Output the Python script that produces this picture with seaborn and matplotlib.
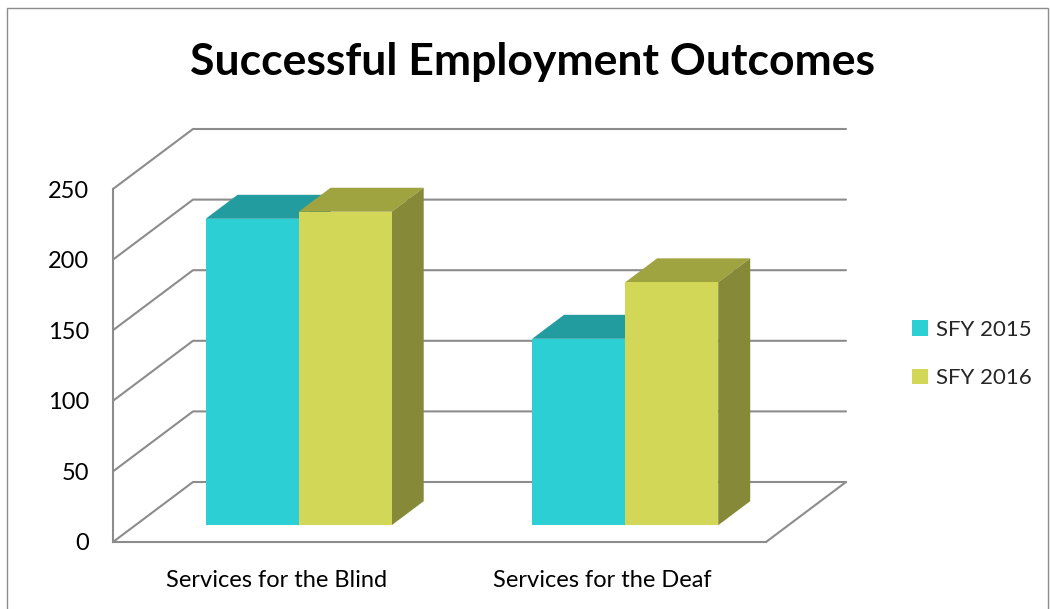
import numpy as np
import pandas as pd
import matplotlib
matplotlib.use("Agg")
import matplotlib.pyplot as plt
import matplotlib.colors as mcolors
import seaborn as sns
from matplotlib.transforms import Affine2D, IdentityTransform
from matplotlib.patches import Polygon, Patch, Rectangle
from matplotlib.lines import Line2D

# ---- data ----
categories = ["Services for the Blind", "Services for the Deaf"]
series = ["SFY 2015", "SFY 2016"]
sfy2015 = [217, 132]
sfy2016 = [222, 172]
yticks = [0, 50, 100, 150, 200, 250]
title = "Successful Employment Outcomes"

front_colors = {"SFY 2015": "#2CCFD3", "SFY 2016": "#D3D758"}
top_colors = {"SFY 2015": "#229C9F", "SFY 2016": "#A0A440"}
side_colors = {"SFY 2015": "#1C8285", "SFY 2016": "#868937"}
grid_color = "#8C8C8C"

df = pd.DataFrame({
    "category": categories * 2,
    "series": [series[0]] * len(categories) + [series[1]] * len(categories),
    "value": sfy2015 + sfy2016,
})

sns.set_style("white")
plt.rcParams["font.family"] = ["Lato", "DejaVu Sans"]

W, H = 1050, 609
fig = plt.figure(figsize=(W / 100, H / 100), dpi=100)
ax = fig.add_axes([113 / W, 1 - 542 / H, (766 - 113) / W, (542 - 189) / H])

sns.barplot(data=df, x="category", y="value", hue="series", palette=front_colors,
            width=0.57, ax=ax, legend=False, saturation=1, linewidth=0,
            edgecolor="none", order=categories, hue_order=series)
ax.set_xlim(-0.5, len(categories) - 0.5)
ax.set_ylim(yticks[0], yticks[-1])
ax.set_xlabel("")
ax.set_ylabel("")

# pseudo-3D geometry (display pixel offsets)
D_BACK = np.array([80.0, 60.0])
F_OFF = D_BACK * 0.28
D_BAR = D_BACK * 0.40

xmin, xmax = ax.get_xlim()
# back wall + left wall grid lines
for v in yticks:
    p0 = ax.transData.transform((xmin, v))
    p1 = ax.transData.transform((xmax, v))
    pts = np.array([p0, p0 + D_BACK, p1 + D_BACK])
    ax.add_artist(Line2D(pts[:, 0], pts[:, 1], transform=IdentityTransform(),
                         color=grid_color, lw=1.5, zorder=0.5, clip_on=False))
# floor right edge
p1 = ax.transData.transform((xmax, 0))
pts = np.array([p1, p1 + D_BACK])
ax.add_artist(Line2D(pts[:, 0], pts[:, 1], transform=IdentityTransform(),
                     color=grid_color, lw=1.5, zorder=0.5, clip_on=False))

# bars: seaborn rectangles become the front faces, add top and side faces
hex_to_series = {mcolors.to_hex(c).lower(): s for s, c in front_colors.items()}
bars = sorted([p for p in ax.patches if p.get_height() > 0], key=lambda p: p.get_x())
for k, p in enumerate(bars):
    s = hex_to_series.get(mcolors.to_hex(p.get_facecolor()).lower(), series[0])
    z = 2 + k * 0.1
    x0, w, h = p.get_x(), p.get_width(), p.get_height()
    c = ax.transData.transform([(x0, 0), (x0 + w, 0), (x0 + w, h), (x0, h)])
    top = [c[3] + F_OFF, c[2] + F_OFF, c[2] + F_OFF + D_BAR, c[3] + F_OFF + D_BAR]
    side = [c[1] + F_OFF, c[1] + F_OFF + D_BAR, c[2] + F_OFF + D_BAR, c[2] + F_OFF]
    ax.add_artist(Polygon(top, closed=True, transform=IdentityTransform(),
                          facecolor=top_colors[s], edgecolor="none", zorder=z,
                          clip_on=False))
    ax.add_artist(Polygon(side, closed=True, transform=IdentityTransform(),
                          facecolor=side_colors[s], edgecolor="none", zorder=z,
                          clip_on=False))
    p.set_transform(ax.transData + Affine2D().translate(*F_OFF))
    p.set_clip_on(False)
    p.set_zorder(z + 0.05)

# axes styling
for sp in ["top", "right"]:
    ax.spines[sp].set_visible(False)
for sp in ["left", "bottom"]:
    ax.spines[sp].set_color(grid_color)
    ax.spines[sp].set_linewidth(1.5)
    ax.spines[sp].set_zorder(0.6)

ax.set_yticks(yticks)
ax.set_yticklabels([str(v) for v in yticks], fontsize=17, color="#000000")
ax.tick_params(axis="y", direction="out", length=5, width=1.5, color=grid_color, pad=12)

ax.set_xticks(np.arange(len(categories) + 1) - 0.5)
ax.set_xticklabels([""] * (len(categories) + 1))
ax.set_xticks(np.arange(len(categories)), minor=True)
ax.set_xticklabels(categories, minor=True, fontsize=17, color="#000000")
ax.tick_params(axis="x", which="major", direction="out", length=5, width=1.5, color=grid_color)
ax.tick_params(axis="x", which="minor", length=0, pad=20)
ax.patch.set_alpha(0)

# legend
handles = [Patch(facecolor=front_colors[s], edgecolor="none") for s in series]
fig.legend(handles, series, loc="center left", bbox_to_anchor=(912 / W, 1 - 354 / H),
           frameon=False, fontsize=16, handlelength=0.7, handleheight=0.7,
           handletextpad=0.4, labelspacing=1.3, borderaxespad=0, borderpad=0)

# title
fig.text(533 / W, 1 - 62 / H, title, ha="center", va="center",
         fontsize=32, fontweight="bold", color="#000000")

# outer border
fig.add_artist(Rectangle((7 / W, -0.01), 1041 / W, 601 / H + 0.01,
                         transform=fig.transFigure, fill=False,
                         edgecolor="#8C8C8C", lw=1))

fig.savefig("out.png", dpi=100)
